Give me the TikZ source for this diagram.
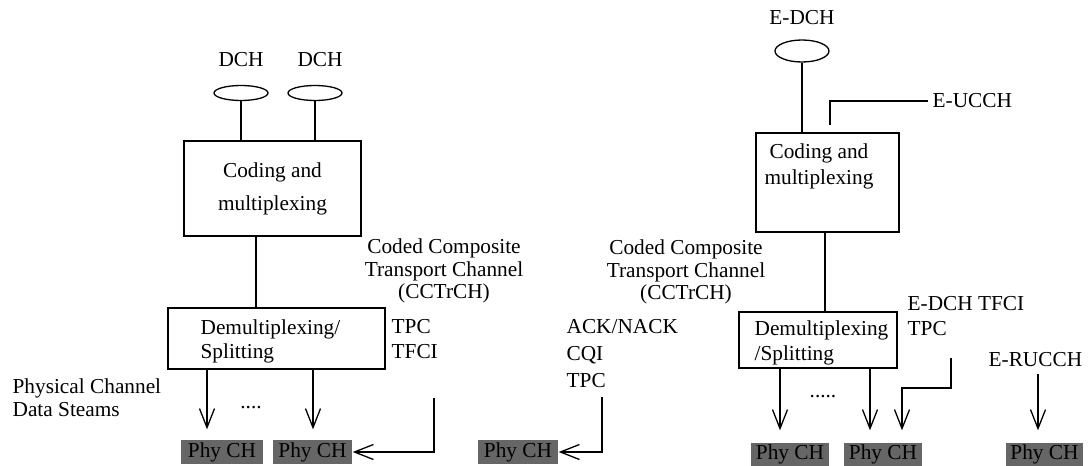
\documentclass[tikz,border=0pt]{standalone}
\usepackage{fontspec}
\setmainfont{Liberation Serif}
\usetikzlibrary{arrows.meta,shapes.geometric}
\definecolor{phygray}{RGB}{102,102,102}

\begin{document}
\begin{tikzpicture}[x=1pt, y=-1pt, line width=1.3pt, line join=miter,
  txt/.style={inner sep=0pt, font=\fontsize{21.3}{25}\selectfont},
  blk/.style={draw, inner sep=0pt, font=\fontsize{21.3}{33}\selectfont, align=center},
  pipe/.style={draw, ellipse, inner sep=0pt, minimum width=54pt},
  phy/.style={fill=phygray, text=black, inner sep=0pt, minimum height=24pt, font=\fontsize{21.3}{25}\selectfont},
  vee/.style={-{Straight Barb[length=19pt,width=15pt]}, shorten >=#1}, vee/.default=0pt]

  %% ════ 左：DCH -> 编码复用 -> 解复用 ════
  \node[txt] (dchA) at (241,60) {DCH};
  \node[txt] (dchB) at (320,60) {DCH};
  \node[pipe, minimum height=15pt] (eA) at (241,93) {};
  \node[pipe, minimum height=15pt] (eB) at (315,93) {};
  \node[blk, minimum width=177pt, minimum height=95pt] (cod1) at (272.5,188.5) {Coding and\\multiplexing};
  \draw (eA) -- (eA |- cod1.north);
  \draw (eB) -- (eB |- cod1.north);

  \node[draw, minimum width=217pt, minimum height=61pt] (dmx1) at (276.5,338.5) {};
  \node[txt, anchor=west, align=left, font=\fontsize{21.3}{24}\selectfont] (dmx1t) at (200,341) {Demultiplexing/\\Splitting};
  \coordinate (j1) at (256,0);
  \draw (cod1.south -| j1) -- (dmx1.north -| j1);

  \node[txt, align=center, font=\fontsize{21.3}{22.5}\selectfont] (cct1) at (444,271) {Coded Composite\\Transport Channel\\(CCTrCH)};
  \node[txt, anchor=west, align=left] (tpc1) at (391,339.5) {TPC\\TFCI};
  \node[txt, anchor=west, align=left, font=\fontsize{21.3}{23}\selectfont] (pcds) at (12,397.5) {Physical Channel\\Data Steams};
  \node[txt, anchor=west, align=left, font=\fontsize{21.3}{27}\selectfont] (ack) at (566,354) {ACK/NACK\\CQI\\TPC};

  %% ════ 左：物理信道 ════
  \node[phy, minimum width=82pt] (phy1) at (222,452) {Phy CH};
  \node[phy, minimum width=79pt] (phy2) at (312.5,452) {Phy CH};
  \node[phy, minimum width=80pt] (phy3) at (518,452) {Phy CH};

  \coordinate (c1) at (207,0);
  \coordinate (c2) at (313,0);
  \draw[vee=10pt] (dmx1.south -| c1) -- (phy1.north -| c1);
  \draw[vee=10pt] (dmx1.south -| c2) -- (phy2.north -| c2);
  \node[txt] (dots1) at (251,408) {....};

  \coordinate (fb1) at (434,398);
  \coordinate (fb2) at (602,397);
  \draw[vee] (fb1) |- (phy2.east);
  \draw[vee] (fb2) |- (phy3.east);

  %% ════ 右：E-DCH 分支 ════
  \node[txt] (edch) at (802,18) {E-DCH};
  \node[pipe, minimum height=22pt] (eC) at (802,51) {};
  \node[draw, minimum width=143pt, minimum height=99pt] (cod2) at (827.5,182.5) {};
  \node[txt, align=center, font=\fontsize{21.3}{26}\selectfont] (cod2t) at (819,166) {Coding and\\multiplexing};
  \draw (eC) -- (eC |- cod2.north);

  \node[txt, anchor=west] (eucch) at (932,101) {E-UCCH};
  \coordinate (eu) at (830,125);
  \draw[shorten <=4pt] (eucch.west) -| (eu);

  \node[draw, minimum width=158pt, minimum height=56pt] (dmx2) at (818,340) {};
  \node[txt, anchor=west, align=left, font=\fontsize{21.3}{25}\selectfont] (dmx2t) at (754,342.5) {Demultiplexing\\/Splitting};
  \coordinate (j2) at (825,0);
  \draw (cod2.south -| j2) -- (dmx2.north -| j2);

  \node[txt, align=center, font=\fontsize{21.3}{22.5}\selectfont] (cct2) at (686,272) {Coded Composite\\Transport Channel\\(CCTrCH)};
  \node[txt, anchor=west, align=left] (edt) at (907,316.5) {E-DCH TFCI\\TPC};
  \node[txt, anchor=west] (erucch) at (988,360) {E-RUCCH};

  %% ════ 右：物理信道 ════
  \node[phy, minimum width=78pt, minimum height=23pt] (phy4) at (790,454.5) {Phy CH};
  \node[phy, minimum width=78pt, minimum height=23pt] (phy5) at (883,454.5) {Phy CH};
  \node[phy, minimum width=77pt, minimum height=23pt] (phy6) at (1044.5,454.5) {Phy CH};

  \coordinate (c3) at (780,0);
  \coordinate (c4) at (870,0);
  \coordinate (c5) at (1038,0);
  \draw[vee=12pt] (dmx2.south -| c3) -- (phy4.north -| c3);
  \draw[vee=12pt] (dmx2.south -| c4) -- (phy5.north -| c4);
  \node[txt] (dots2) at (823,397) {.....};

  \coordinate (fb3) at (951,358);
  \coordinate (fb3b) at (902,388);
  \draw[vee=12pt] (fb3) |- (fb3b) -- (fb3b |- phy5.north);
  \draw[vee=12pt, shorten <=6pt] (erucch.south -| c5) -- (phy6.north -| c5);

  % 固定画布
  \pgfresetboundingbox
  \path[use as bounding box] (0,0) rectangle (1088,466);
\end{tikzpicture}
\end{document}
